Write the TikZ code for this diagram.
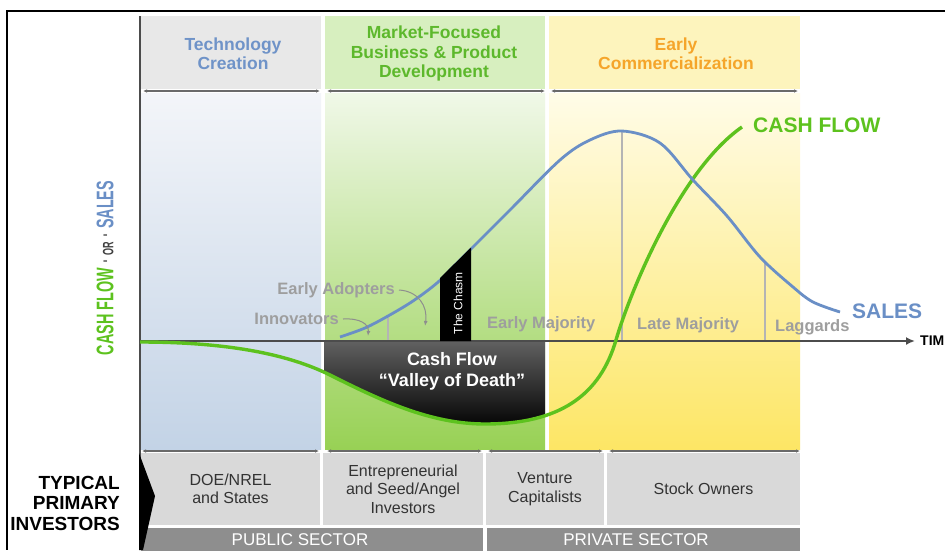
\documentclass[tikz,border=0pt]{standalone}
\usepackage{fontspec}
\setmainfont{Liberation Sans}
\usetikzlibrary{arrows.meta}
\newcommand\fsz[2]{\fontsize{#1}{#2}\selectfont}
\definecolor{salesblue}{HTML}{6A8FC6}
\definecolor{cfgreen}{HTML}{5DC21E}
\definecolor{techtext}{HTML}{6F93C8}
\definecolor{mktext}{HTML}{5DB82C}
\definecolor{ectext}{HTML}{F5A52A}
\definecolor{hdrgray}{HTML}{E8E8E8}
\definecolor{hdrgreen}{HTML}{D7EFBF}
\definecolor{hdryellow}{HTML}{FDF4BD}
\definecolor{boxgray}{HTML}{D9D9D9}
\definecolor{sectorgray}{HTML}{8E8E8E}
\definecolor{labelgray}{HTML}{9E9E9E}
\definecolor{arrowgray}{HTML}{6A6A6A}
\definecolor{partgray}{HTML}{B4B4B4}
\definecolor{techtop}{HTML}{F3F5F9}
\definecolor{techmid}{HTML}{DCE4EF}
\definecolor{techbot}{HTML}{C3D3E6}
\definecolor{mktop}{HTML}{F0F8E8}
\definecolor{mkmid}{HTML}{CDEAAE}
\definecolor{mkbot}{HTML}{98D155}
\definecolor{ectop}{HTML}{FFFCE8}
\definecolor{ecmid}{HTML}{FEF3AE}
\definecolor{ecbot}{HTML}{FDE665}
\begin{document}
\begin{tikzpicture}[x=1pt,y=-1pt,
  hdrtext/.style={font=\bfseries\fsz{17.5}{19.5}, align=center, inner sep=0pt},
  spanarrow/.style={draw=arrowgray, line width=1.1pt, {Latex[length=4pt,width=3.5pt]}-{Latex[length=4pt,width=3.5pt]}},
  seglabel/.style={font=\bfseries\fsz{16.5}{18}, text=labelgray, inner sep=0pt},
  partline/.style={draw=partgray, line width=1.2pt},
  investbox/.style={fill=boxgray, font=\fsz{16}{18.5}, align=center, text=black!80, inner sep=0pt},
  sectorbar/.style={fill=sectorgray, inner sep=0pt},
  sectortext/.style={font=\fsz{17}{19}, text=white, inner sep=0pt},
  investtext/.style={font=\bfseries\fsz{19}{20.5}, align=right, inner sep=0pt},
  hookarrow/.style={draw=labelgray!90!black, line width=1pt, -{Latex[length=5pt,width=4pt]}},
  bigword/.style={font=\bfseries\fsz{21}{23}, inner sep=0pt},
]
\useasboundingbox (0,0) rectangle (945,550);
\fill[white] (0,0) rectangle (945,550);
% frame
\draw[line width=2pt] (945,10.5) -- (7,10.5) -- (7,550);

% headers
\fill[hdrgray] (141,16) rectangle (321,89);
\fill[hdrgreen] (325,16) rectangle (545,89);
\fill[hdryellow] (549,16) rectangle (800,89);
\node[hdrtext, text=techtext] (hdrtech) at (233,53.5) {Technology\\Creation};
\node[hdrtext, text=mktext] (hdrmkt) at (434,53.5) {Market-Focused\\Business \& Product\\Development};
\node[hdrtext, text=ectext] (hdrec) at (676,53.5) {Early\\Commercialization};

% bodies
\shade[top color=techtop, middle color=techmid, bottom color=techbot] (141,93) rectangle (321,449);
\shade[top color=mktop, middle color=mkmid, bottom color=mkbot] (325,93) rectangle (545,449);
\shade[top color=ectop, middle color=ecmid, bottom color=ecbot] (549,93) rectangle (800,449);

% span arrows (top)
\coordinate (ta1) at (143,91); \coordinate (tb1) at (320,91);
\coordinate (ta2) at (327,91); \coordinate (tb2) at (545,91);
\coordinate (ta3) at (551,91); \coordinate (tb3) at (798,91);
\draw[spanarrow] (ta1) -- (tb1);
\draw[spanarrow] (ta2) -- (tb2);
\draw[spanarrow] (ta3) -- (tb3);

% valley of death
\begin{scope}
  \clip (140,342) .. controls (230,342) and (290,355) .. (330,375) .. controls (380,400) and (430,424) .. (485,424) .. controls (560,424) and (600,395) .. (616,340) .. controls (630,292) and (680,170) .. (742,127) -- (742,341) -- (140,341) -- cycle;
  \shade[top color=black!62, bottom color=black] (324,341) rectangle (545,430);
\end{scope}

% partition lines
\draw[partline] (388,316) -- (388,341);
\draw[partline] (622,131) -- (622,341);
\draw[partline] (765,262) -- (765,341);

% axes
\draw[draw=black!70, line width=2pt] (140,16) -- (140,550);
\coordinate (origin) at (140,341);
\node[font=\bfseries\fsz{14}{14}, anchor=west, inner sep=0pt] (tim) at (920,341) {TIM};
\draw[draw=black!70, line width=1.8pt, -{Latex[length=9pt,width=8pt]}] (origin) -- ([xshift=-5pt]tim.west);

% cash flow curve
\draw[cfgreen, line width=3.4pt] (140,342) .. controls (230,342) and (290,355) .. (330,375) .. controls (380,400) and (430,424) .. (485,424) .. controls (560,424) and (600,395) .. (616,340) .. controls (630,292) and (680,170) .. (742,127);

% sales curve
\draw[salesblue, line width=2.8pt] plot[smooth, tension=0.55] coordinates {(340,337) (365,328) (388,316) (413,301) (437,283) (455,265) (473,247) (510,210) (560,160) (590,140) (622,131) (660,143) (693,180) (727,216) (760,257) (793,287) (813,302) (840,312)};

% chasm
\fill[black] (440,278) -- (471,247.5) -- (471,341) -- (440,341) -- cycle;
\node[rotate=90, text=white, font=\fsz{12}{12}, inner sep=0pt] (chasm) at (458,303) {The Chasm};

% valley text
\node[text=white, font=\bfseries\fsz{18}{21}, align=center, inner sep=0pt] (valley) at (452,371.5) {Cash Flow\\“Valley of Death”};

% segment labels
\node[seglabel, anchor=east] (innov) at (339,319) {Innovators};
\node[seglabel, anchor=east] (eadopt) at (395,290) {Early Adopters};
\coordinate (innovtip) at (368,336);
\coordinate (eadopttip) at (425,326);
\draw[hookarrow] ([xshift=4pt]innov.east) .. controls (360,318) and (369,324) .. (innovtip);
\draw[hookarrow] ([xshift=4pt]eadopt.east) .. controls (418,291) and (428,306) .. (eadopttip);
\node[seglabel, anchor=west] (emaj) at (487,324) {Early Majority};
\node[seglabel, anchor=west] (lmaj) at (637,325.5) {Late Majority};
\node[seglabel, anchor=west] (lagg) at (775,327) {Laggards};

% curve labels
\node[bigword, text=cfgreen, anchor=west] (cflabel) at (753,125) {CASH FLOW};
\node[bigword, text=salesblue, anchor=west] (saleslabel) at (852,311) {SALES};

% y-axis label
\node[rotate=90, inner sep=0pt] (ylabel) at (105,268) {\scalebox{0.6}[1]{\bfseries\fsz{24}{24}\color{cfgreen}CASH FLOW {\color{black!50}·} {\color{black!75}\fsz{15}{15}OR} {\color{black!50}·} \color{salesblue}SALES}};

% bottom span arrows
\coordinate (ba1) at (142,451); \coordinate (bb1) at (319,451);
\coordinate (ba2) at (327,451); \coordinate (bb2) at (482,451);
\coordinate (ba3) at (488,451); \coordinate (bb3) at (603,451);
\coordinate (ba4) at (609,451); \coordinate (bb4) at (800,451);
\draw[spanarrow] (ba1) -- (bb1);
\draw[spanarrow] (ba2) -- (bb2);
\draw[spanarrow] (ba3) -- (bb3);
\draw[spanarrow] (ba4) -- (bb4);

% investor boxes
\node[investbox, minimum width=179pt, minimum height=72pt] (doe) at (230.5,489) {DOE/NREL\\and States};
\node[investbox, minimum width=160pt, minimum height=72pt] (angel) at (403,489) {Entrepreneurial\\and Seed/Angel\\Investors};
\node[investbox, minimum width=118pt, minimum height=72pt] (vc) at (545,489) {Venture\\Capitalists};
\node[investbox, minimum width=193pt, minimum height=72pt] (stock) at (703.5,489) {Stock Owners};

% sector bars
\node[sectorbar, minimum width=342pt, minimum height=24pt, anchor=north west] (pubbar) at (141,528) {};
\node[sectorbar, minimum width=313pt, minimum height=24pt, anchor=north west] (privbar) at (487,528) {};
\node[sectortext] (pubtext) at (300,540) {PUBLIC SECTOR};
\node[sectortext] (privtext) at (636,540) {PRIVATE SECTOR};

% chevron
\fill[black] (139,453) -- (155,496) -- (143,550) -- (139,550) -- cycle;

% typical investors
\node[investtext, anchor=east] (typical) at (120,503) {TYPICAL\\PRIMARY\\INVESTORS};
\end{tikzpicture}
\end{document}
